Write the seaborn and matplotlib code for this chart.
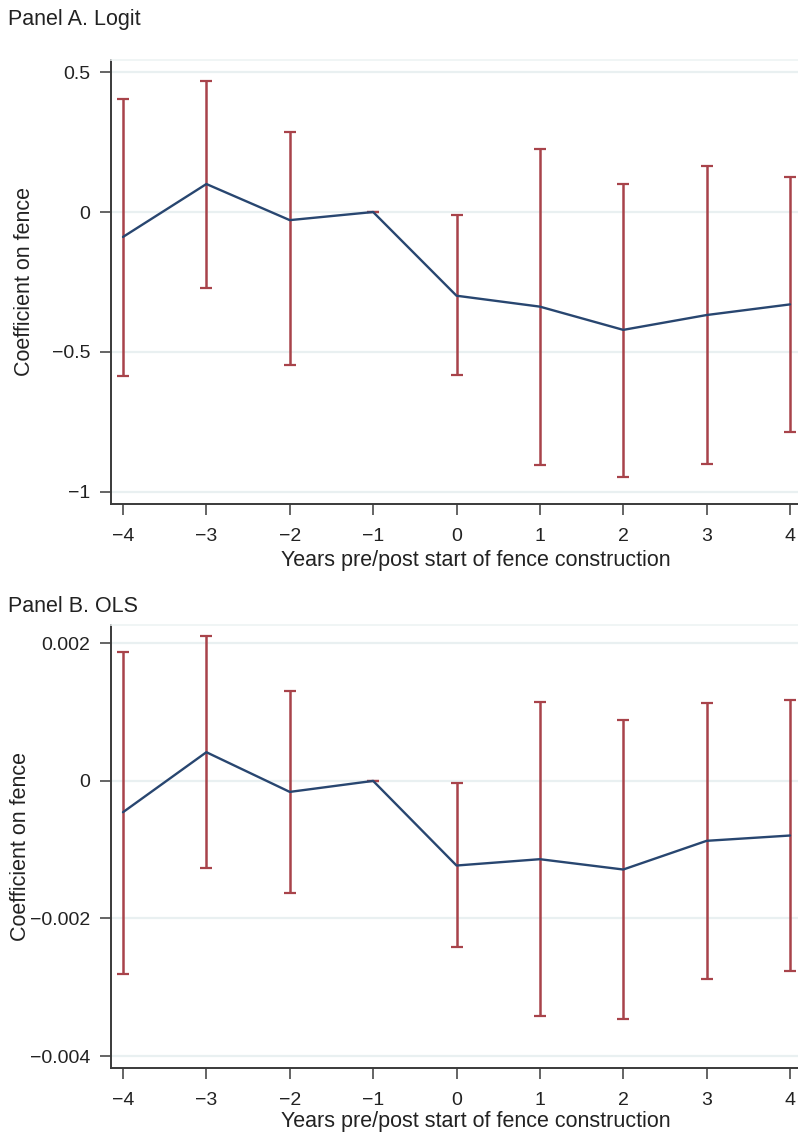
import numpy as np
import pandas as pd
import matplotlib
matplotlib.use("Agg")
import matplotlib.pyplot as plt
import seaborn as sns

# ---------------- data ----------------
years = [-4, -3, -2, -1, 0, 1, 2, 3, 4]

logit_coef = [-0.089, 0.100, -0.029, 0.0, -0.299, -0.338, -0.421, -0.368, -0.330]
logit_lo = [-0.586, -0.271, -0.546, 0.0, -0.583, -0.902, -0.945, -0.901, -0.787]
logit_hi = [0.405, 0.468, 0.287, 0.0, -0.011, 0.225, 0.100, 0.165, 0.126]

ols_coef = [-0.000455, 0.000417, -0.000160, 0.0, -0.001230, -0.001138, -0.001288, -0.000871, -0.000794]
ols_lo = [-0.002803, -0.001259, -0.001631, 0.0, -0.002410, -0.003413, -0.003457, -0.002880, -0.002764]
ols_hi = [0.001878, 0.002106, 0.001312, 0.0, -0.000029, 0.001143, 0.000881, 0.001133, 0.001176]

logit_yticks = [0.5, 0.0, -0.5, -1.0]
logit_yticklabels = ["0.5", "0", "\u22120.5", "\u22121"]
ols_yticks = [0.002, 0.0, -0.002, -0.004]
ols_yticklabels = ["0.002", "0", "\u22120.002", "\u22120.004"]
xticklabels = ["\u22124", "\u22123", "\u22122", "\u22121", "0", "1", "2", "3", "4"]

panel_titles = ["Panel A. Logit", "Panel B. OLS"]
xlabel = "Years pre/post start of fence construction"
ylabel = "Coefficient on fence"

# ---------------- style ----------------
sns.set_theme(style="white")
plt.rcParams["font.family"] = ["Liberation Sans", "DejaVu Sans"]

LINE = "#284670"
BAR = "#a8434a"
SPINE = "#3a3a3a"
GRID = "#e9f0f1"
TXT = "#222222"

W, H = 798, 1134
fig = plt.figure(figsize=(W / 100, H / 100), dpi=100)

def frac_rect(left, top, right, bottom):
    return [left / W, 1 - bottom / H, (right - left) / W, (bottom - top) / H]

axA = fig.add_axes(frac_rect(111, 60, 798, 504))
axB = fig.add_axes(frac_rect(111, 625, 798, 1068))

specs = [
    (axA, logit_coef, logit_lo, logit_hi, logit_yticks, logit_yticklabels, (-1.043, 0.543), -0.111, -0.103),
    (axB, ols_coef, ols_lo, ols_hi, ols_yticks, ols_yticklabels, (-0.004173, 0.002266), -0.116, -0.097),
]

for ax, coef, lo, hi, yt, ytl, ylim, ylab_x, xlab_y in specs:
    c = np.array(coef)
    yerr = np.vstack([c - np.array(lo), np.array(hi) - c])
    for v in yt:
        ax.axhline(v, color=GRID, lw=1.6, zorder=0)
    ax.errorbar(years, coef, yerr=yerr, fmt="none", ecolor=BAR, elinewidth=1.8,
                capsize=4.0, capthick=1.6, zorder=2)
    df = pd.DataFrame({"year": years, "coef": coef})
    sns.lineplot(data=df, x="year", y="coef", ax=ax, color=LINE, lw=1.7,
                 zorder=3, errorbar=None)
    ax.set_xlim(-4.144, 4.096)
    ax.set_ylim(*ylim)
    ax.set_xticks(years)
    ax.set_xticklabels(xticklabels)
    ax.set_yticks(yt)
    ax.set_yticklabels(ytl)
    ax.tick_params(axis="both", direction="out", length=8, width=1.1, color=SPINE,
                   labelsize=14, labelcolor=TXT, pad=7, left=True, bottom=True)
    ax.tick_params(axis="x", pad=9)
    ax.spines["right"].set_visible(False)
    ax.spines["top"].set_color("#eef3f4")
    ax.spines["top"].set_linewidth(1.2)
    for s in ["left", "bottom"]:
        ax.spines[s].set_color(SPINE)
        ax.spines[s].set_linewidth(1.4)
    ax.set_xlabel(xlabel, fontsize=15.5, color=TXT)
    ax.set_ylabel(ylabel, fontsize=15.5, color=TXT)
    ax.xaxis.set_label_coords(0.531, xlab_y)
    ax.yaxis.set_label_coords(ylab_x, 0.5)
    ax.grid(False)

fig.text(8 / W, 1 - 20 / H, panel_titles[0], fontsize=15.5, color=TXT, ha="left", va="center")
fig.text(8 / W, 1 - 606 / H, panel_titles[1], fontsize=15.5, color=TXT, ha="left", va="center")

fig.savefig("out.png", dpi=100, facecolor="white")
